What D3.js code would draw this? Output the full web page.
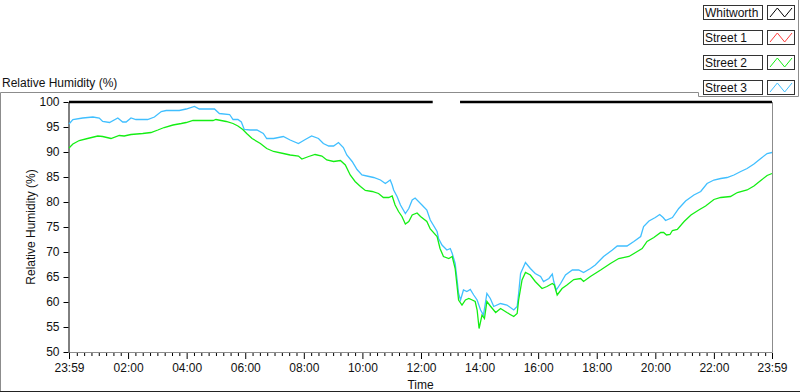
<html lang="en">
<head>
<meta charset="UTF-8">
<script src="https://d3js.org/d3.v7.min.js"></script>
<title>Relative Humidity</title>
<style>
body { margin: 0; background: #fff; }
svg { display: block; font-family: "Liberation Sans", Arial, sans-serif; font-size: 12px; }
.lbl { fill: #111; }
</style>
</head>
<body>
<svg id="canvas" width="800" height="392"></svg>
<script>
// minutes after 23:59 (start of day) and % RH
let streetTwoTimes = [0, 8, 21, 38, 59, 69, 86, 103, 113, 127, 151, 168, 182, 195, 213, 230, 240, 254, 295, 301,
    322, 336, 346, 356, 364, 375, 392, 405, 419, 439, 453, 470, 477, 491, 504, 518, 528, 542, 556, 566,
    576, 586, 597, 607, 621, 634, 644, 655, 662, 668, 675, 682, 689, 696, 703, 713, 720, 733, 740, 754,
    760, 767, 778, 785, 791, 795, 798, 805, 812, 819, 826, 832, 836, 840, 846, 851, 856, 863, 874, 884,
    897, 911, 918, 921, 928, 935, 945, 955, 969, 979, 990, 994, 1000, 1010, 1020, 1034, 1048, 1054, 1068, 1089,
    1109, 1126, 1147, 1164, 1174, 1184, 1198, 1212, 1218, 1224, 1231, 1236, 1246, 1260, 1274, 1290, 1304, 1321, 1335, 1355,
    1369, 1389, 1403, 1417, 1430, 1440];
let streetTwoValues = [90.8, 91.6, 92.3, 92.7, 93.2, 93.1, 92.7, 93.3, 93.2, 93.5, 93.7, 93.9, 94.4, 94.9, 95.4, 95.7, 95.9, 96.3, 96.3, 96.5,
    96.1, 95.7, 95.2, 94.5, 93.7, 92.7, 91.7, 90.7, 90.1, 89.7, 89.4, 89.2, 88.6, 89.1, 89.5, 89.2, 88.4, 88.1, 88.3, 87.4,
    85.4, 84.1, 83.1, 82.3, 82.1, 81.7, 80.9, 80.9, 81.2, 79.4, 78.1, 77.1, 75.6, 76.1, 77.4, 77.8, 77.1, 76.1, 74.6, 73.1,
    70.7, 69.1, 68.7, 69.1, 66.7, 63.1, 60.4, 59.4, 60.4, 60.7, 60.4, 60.1, 58.4, 54.7, 57.4, 56.7, 60.1, 59.2, 57.9, 58.7,
    57.9, 57.1, 57.7, 60.4, 64.4, 65.9, 65.4, 64.1, 62.7, 63.1, 63.7, 63.4, 61.4, 62.7, 63.4, 64.5, 64.7, 64.1, 65.1, 66.4,
    67.7, 68.7, 69.1, 70.1, 70.7, 72.1, 72.9, 73.9, 73.9, 73.4, 73.5, 74.3, 74.5, 76.1, 77.4, 78.4, 79.2, 80.5, 80.9, 81.1,
    81.9, 82.4, 83.2, 84.3, 85.3, 85.7];

let streetThreeTimes = [0, 8, 28, 49, 62, 69, 83, 100, 110, 117, 127, 137, 161, 175, 189, 199, 226, 240, 257, 267,
    298, 308, 329, 336, 346, 353, 359, 371, 385, 398, 405, 419, 439, 453, 470, 484, 497, 511, 521, 532,
    542, 552, 562, 569, 580, 590, 600, 610, 624, 638, 648, 658, 662, 665, 672, 679, 689, 696, 703, 709,
    723, 733, 740, 754, 757, 764, 774, 781, 785, 791, 795, 798, 802, 808, 815, 822, 829, 836, 843, 849,
    856, 863, 870, 884, 897, 911, 918, 921, 925, 935, 945, 955, 966, 972, 983, 990, 993, 998, 1007, 1017,
    1031, 1044, 1054, 1068, 1078, 1095, 1113, 1123, 1143, 1157, 1171, 1177, 1188, 1201, 1210, 1217, 1222, 1236, 1249, 1263,
    1280, 1294, 1307, 1321, 1335, 1348, 1362, 1376, 1389, 1403, 1417, 1430, 1440];
let streetThreeValues = [95.6, 96.5, 96.8, 97.0, 96.8, 96.1, 95.9, 96.8, 96.0, 96.0, 96.8, 96.5, 96.5, 97.0, 98.1, 98.3, 98.3, 98.6, 99.1, 98.6,
    98.6, 97.7, 97.5, 96.5, 96.5, 96.0, 94.5, 94.4, 94.4, 93.7, 92.7, 92.7, 93.1, 92.4, 91.7, 92.5, 93.2, 92.7, 91.7, 91.2,
    91.2, 91.9, 90.9, 89.4, 88.1, 86.5, 85.4, 85.2, 84.9, 84.4, 83.7, 84.4, 83.4, 82.4, 81.1, 79.4, 77.7, 78.7, 80.4, 80.8,
    79.4, 78.4, 76.4, 74.1, 72.7, 71.4, 70.4, 70.7, 69.7, 67.7, 64.4, 61.7, 60.4, 62.4, 62.1, 62.5, 61.4, 60.4, 58.4, 57.4,
    61.7, 60.7, 59.1, 59.7, 59.4, 58.4, 59.1, 61.7, 65.7, 67.9, 66.7, 65.7, 65.1, 64.1, 64.7, 65.6, 64.1, 62.4, 63.7, 65.4,
    66.4, 66.4, 65.9, 66.7, 67.4, 69.1, 70.4, 71.2, 71.2, 72.1, 73.1, 75.1, 76.2, 76.9, 77.5, 76.9, 76.3, 76.9, 78.7, 80.2,
    81.4, 82.1, 83.7, 84.4, 84.7, 84.9, 85.4, 86.1, 86.7, 87.6, 88.7, 89.7, 89.9];

// Whitworth sits on the 100 line, with a short gap around midday
let whitworthTimes = [0, 745, 746, 800, 801, 1440];
let whitworthValues = [100, 100, null, null, 100, 100];

let seriesNames = ['Whitworth', 'Street 1', 'Street 2', 'Street 3'];
let seriesColors = ['#000000', '#ff3c3c', '#14ee14', '#40bfff'];

let yTicks = [50, 55, 60, 65, 70, 75, 80, 85, 90, 95, 100];
let xTickMinutes = [0, 121, 241, 361, 481, 601, 721, 841, 961, 1081, 1201, 1321, 1440];
let xTickLabels = ['23:59', '02:00', '04:00', '06:00', '08:00', '10:00', '12:00', '14:00', '16:00', '18:00', '20:00', '22:00', '23:59'];

let canvas = d3.select('#canvas');

let x = d3.scaleLinear().domain([0, 1440]).range([69, 772]);
let y = d3.scaleLinear().domain([50, 100]).range([352, 102]);

// outer frame of the graph control
canvas.append('path')
    .attr('d', 'M0.5,392 V92.5 H698.5 V96.5 H798.5 V0')
    .attr('fill', 'none').attr('stroke', '#8c8c8c');
canvas.append('line')
    .attr('x1', 0).attr('x2', 800).attr('y1', 391.5).attr('y2', 391.5)
    .attr('stroke', '#222');

canvas.append('text').attr('class', 'lbl')
    .attr('x', 2).attr('y', 87)
    .text('Relative Humidity (%)');

// plot border (right & bottom gray)
canvas.append('path')
    .attr('d', `M${x(0)},${y(50) + 0.5} H${x(1440) + 0.5} V${y(100)}`)
    .attr('fill', 'none').attr('stroke', '#8c8c8c');

// y axis
let yAxis = canvas.append('g')
    .attr('transform', `translate(${x(0) - 0.5},0)`)
    .call(d3.axisLeft(y).tickValues(yTicks).tickSize(5).tickPadding(4).tickSizeOuter(0));
yAxis.select('.domain').attr('stroke', '#000');
yAxis.selectAll('text').attr('class', 'lbl').style('font-size', '12px').style('font-family', 'inherit');

// x axis: majors + 15 minute minors
let minorTicks = d3.range(16, 1440, 15).filter((m) => !xTickMinutes.includes(m));
let xMinor = canvas.append('g')
    .attr('transform', `translate(0,${y(50) + 1})`)
    .call(d3.axisBottom(x).tickValues(minorTicks).tickSize(3).tickFormat(''));
xMinor.select('.domain').remove();
let xAxis = canvas.append('g')
    .attr('transform', `translate(0,${y(50) + 1})`)
    .call(d3.axisBottom(x).tickValues(xTickMinutes).tickSize(6).tickPadding(4)
        .tickFormat((d, i) => xTickLabels[i]));
xAxis.select('.domain').remove();
xAxis.selectAll('text').attr('class', 'lbl').style('font-size', '12px').style('font-family', 'inherit');

canvas.append('text').attr('class', 'lbl')
    .attr('text-anchor', 'middle')
    .attr('x', (x(0) + x(1440)) / 2).attr('y', 389)
    .text('Time');
canvas.append('text').attr('class', 'lbl')
    .attr('text-anchor', 'middle')
    .attr('transform', `translate(35,${(y(50) + y(100)) / 2}) rotate(-90)`)
    .text('Relative Humidity (%)');

// series
let line = d3.line()
    .defined((d) => d[1] !== null)
    .x((d) => x(d[0]))
    .y((d) => y(d[1]));

let plotData = [
    { times: streetThreeTimes, values: streetThreeValues, color: seriesColors[3], width: 1.3 },
    { times: streetTwoTimes, values: streetTwoValues, color: seriesColors[2], width: 1.3 },
    { times: whitworthTimes, values: whitworthValues, color: seriesColors[0], width: 2.5 }
];

canvas.selectAll('.series')
    .data(plotData)
    .enter()
    .append('path')
    .attr('class', 'series')
    .attr('fill', 'none')
    .attr('stroke', (s) => s.color)
    .attr('stroke-width', (s) => s.width)
    .attr('d', (s) => line(s.times.map((t, i) => [t, s.values[i]])));

// legend
let legendY = d3.scaleBand().domain(seriesNames).range([5, 95]).paddingInner(0.38);
let legend = canvas.selectAll('.legend-item')
    .data(seriesNames)
    .enter()
    .append('g')
    .attr('class', 'legend-item')
    .attr('transform', (name) => `translate(0,${Math.round(legendY(name))})`);

legend.append('rect')
    .attr('x', 703.5).attr('y', 0.5)
    .attr('width', 59).attr('height', 14)
    .attr('fill', '#fff').attr('stroke', '#333');
legend.append('text').attr('class', 'lbl')
    .attr('x', 705).attr('y', 12)
    .text((name) => name);
legend.append('rect')
    .attr('x', 767.5).attr('y', 0.5)
    .attr('width', 27).attr('height', 14)
    .attr('fill', '#fff').attr('stroke', '#333');

let iconX = d3.scaleLinear().domain([0, 3]).range([770, 792]);
let iconY = d3.scaleLinear().domain([0, 1]).range([12, 3]);
let zig = [0, 1, 0, 1];
legend.append('path')
    .attr('fill', 'none')
    .attr('stroke', (name, i) => seriesColors[i])
    .attr('d', d3.line().x((d, i) => iconX(i)).y((d) => iconY(d))(zig));
</script>
</body>
</html>
